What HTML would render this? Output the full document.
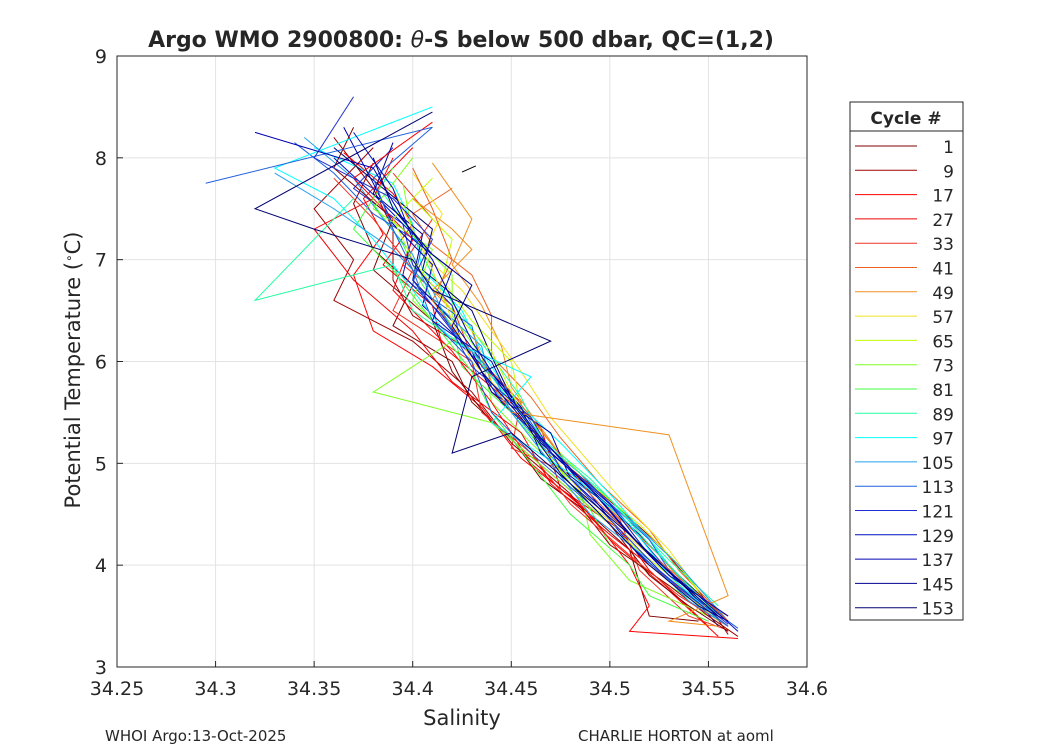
<!DOCTYPE html>
<html><head><meta charset="utf-8"><style>
body{margin:0;background:#fff;font-family:"Liberation Sans","DejaVu Sans",sans-serif}
svg text{font-family:"DejaVu Sans","Liberation Sans",sans-serif;fill:#262626}
</style></head><body>
<svg id="chart" width="1050" height="750" xmlns="http://www.w3.org/2000/svg">
<rect width="1050" height="750" fill="#fff"/>
<g id="grid"></g>
<g id="series"></g>
<rect x="117" y="56" width="690" height="611" fill="none" stroke="#262626" stroke-width="1"/>
<g id="ticks"></g>
<text x="461" y="47" text-anchor="middle" font-size="22" font-weight="bold">Argo WMO 2900800: <tspan font-style="italic" font-weight="normal">θ</tspan>-S below 500 dbar,  QC=(1,2)</text>
<text x="462" y="725" text-anchor="middle" font-size="21">Salinity</text>
<text transform="translate(80,370) rotate(-90)" text-anchor="middle" font-size="21">Potential Temperature (<tspan baseline-shift="super" font-size="12">∘</tspan>C)</text>
<text x="105" y="741" font-size="15">WHOI Argo:13-Oct-2025</text>
<text x="578" y="741" font-size="15">CHARLIE HORTON at aoml</text>
<g id="legend"></g>
</svg>
<script>
const xTicks=[34.25,34.3,34.35,34.4,34.45,34.5,34.55,34.6];
const yTicks=[3,4,5,6,7,8,9];
const cycles=["1","9","17","27","33","41","49","57","65","73","81","89","97","105","113","121","129","137","145","153"];
const colors=["#800000","#a00000","#ff0000","#f00000","#f03020","#f06020","#f09020","#f0e020","#c0ff00","#80ff20","#40ff40","#20ffa0","#00ffff","#20a0f0","#2060e0","#2030d0","#0010c0","#0000b0","#000090","#000070"];
const p1=[[34.37,8.3],[34.36,7.9],[34.39,7.4],[34.38,6.9],[34.41,6.4],[34.42,5.9],[34.44,5.4],[34.47,4.9],[34.50,4.4],[34.52,3.9],[34.54,3.6],[34.56,3.35]];
const p9=[[34.38,8.1],[34.35,7.5],[34.37,7.0],[34.36,6.6],[34.40,6.2],[34.43,5.7],[34.45,5.2],[34.48,4.7],[34.50,4.2],[34.53,3.8],[34.55,3.5],[34.565,3.3]];
const p17=[[34.41,8.35],[34.37,7.8],[34.40,7.2],[34.39,6.7],[34.42,6.1],[34.44,5.6],[34.46,5.0],[34.49,4.5],[34.51,4.0],[34.52,3.6],[34.51,3.35],[34.565,3.28]];
const p27=[[34.39,8.0],[34.38,7.6],[34.35,7.3],[34.37,6.8],[34.40,6.3],[34.42,5.8],[34.455,5.3],[34.47,4.8],[34.50,4.3],[34.53,3.85],[34.56,3.4]];
const p33=[[34.36,7.8],[34.38,7.4],[34.40,6.9],[34.39,6.5],[34.43,6.0],[34.435,5.5],[34.46,5.1],[34.48,4.6],[34.51,4.1],[34.535,3.7],[34.56,3.4]];
const p41=[[34.40,7.9],[34.41,7.5],[34.42,7.0],[34.41,6.6],[34.425,6.2],[34.45,5.7],[34.47,5.2],[34.49,4.7],[34.515,4.2],[34.54,3.8],[34.56,3.45]];
const p49=[[34.40,7.6],[34.42,7.3],[34.43,7.1],[34.41,6.7],[34.43,6.3],[34.44,5.8],[34.45,5.5],[34.53,5.28],[34.56,3.7],[34.53,3.45],[34.555,3.4]];
const p57=[[34.39,7.7],[34.40,7.3],[34.41,6.9],[34.42,6.4],[34.43,6.0],[34.45,5.6],[34.47,5.1],[34.49,4.6],[34.52,4.1],[34.54,3.7],[34.555,3.45]];
const p65=[[34.41,7.8],[34.39,7.4],[34.40,7.0],[34.42,6.5],[34.44,6.1],[34.45,5.7],[34.46,5.3],[34.48,4.8],[34.505,4.3],[34.53,3.9],[34.55,3.55]];
const p73=[[34.40,8.0],[34.38,7.5],[34.41,7.1],[34.40,6.6],[34.42,6.2],[34.38,5.7],[34.44,5.4],[34.47,4.9],[34.50,4.4],[34.52,4.0],[34.545,3.6]];
const p81=[[34.39,7.9],[34.37,7.3],[34.39,6.9],[34.41,6.4],[34.43,5.9],[34.44,5.5],[34.46,5.0],[34.48,4.5],[34.51,4.0],[34.52,3.7],[34.55,3.45]];
const p89=[[34.37,7.6],[34.32,6.6],[34.39,6.95],[34.40,6.5],[34.43,6.1],[34.45,5.6],[34.47,5.15],[34.50,4.65],[34.52,4.2],[34.54,3.8],[34.555,3.5]];
const p97=[[34.41,8.5],[34.33,7.9],[34.36,7.6],[34.38,7.2],[34.40,6.7],[34.42,6.2],[34.46,5.85],[34.44,5.4],[34.48,4.9],[34.51,4.4],[34.53,3.9],[34.55,3.55]];
const p105=[[34.33,7.85],[34.36,7.5],[34.39,7.1],[34.41,6.7],[34.42,6.3],[34.44,5.9],[34.45,5.5],[34.47,5.0],[34.49,4.5],[34.52,4.05],[34.54,3.65],[34.56,3.4]];
const p113=[[34.295,7.75],[34.41,8.3],[34.38,7.8],[34.39,7.3],[34.40,6.9],[34.41,6.4],[34.43,6.0],[34.44,5.5],[34.46,5.1],[34.49,4.6],[34.515,4.1],[34.54,3.7],[34.56,3.4]];
const p121=[[34.37,8.6],[34.35,8.0],[34.39,7.6],[34.41,7.2],[34.40,6.8],[34.42,6.3],[34.43,5.95],[34.46,5.45],[34.475,4.95],[34.50,4.45],[34.525,3.95],[34.55,3.55]];
const p129=[[34.37,8.25],[34.39,7.7],[34.40,7.2],[34.42,6.9],[34.41,6.4],[34.44,6.0],[34.45,5.6],[34.47,5.1],[34.50,4.6],[34.52,4.1],[34.545,3.7],[34.565,3.35]];
const p137=[[34.32,8.25],[34.38,7.9],[34.395,7.4],[34.41,7.0],[34.42,6.6],[34.43,6.2],[34.445,5.75],[34.465,5.25],[34.49,4.75],[34.51,4.3],[34.53,3.9],[34.56,3.5]];
const p145=[[34.38,8.0],[34.39,7.5],[34.41,7.05],[34.43,6.75],[34.42,6.35],[34.435,5.9],[34.455,5.45],[34.475,4.9],[34.50,4.4],[34.52,4.0],[34.545,3.6],[34.56,3.45]];
const p153=[[34.41,8.45],[34.32,7.5],[34.35,7.3],[34.40,7.0],[34.41,6.7],[34.47,6.2],[34.43,5.85],[34.42,5.1],[34.45,5.3],[34.48,4.8],[34.51,4.3],[34.535,3.85],[34.555,3.5]];
const q1=[[34.38,7.95],[34.37,7.55],[34.38,7.1],[34.40,6.75],[34.39,6.35],[34.42,6.0],[34.43,5.6],[34.45,5.25],[34.465,4.85],[34.49,4.5],[34.51,4.15],[34.52,3.5],[34.545,3.45]];
const q2=[[34.36,8.2],[34.38,7.7],[34.39,7.3],[34.39,6.8],[34.40,6.45],[34.43,6.1],[34.44,5.7],[34.46,5.35],[34.48,4.95],[34.505,4.55],[34.525,4.2],[34.545,3.75],[34.56,3.32]];
const q3=[[34.40,8.1],[34.375,7.6],[34.385,7.25],[34.37,6.85],[34.38,6.3],[34.41,5.95],[34.435,5.55],[34.455,5.05],[34.485,4.6],[34.50,4.25],[34.53,3.75],[34.555,3.3]];
const q4=[[34.365,8.05],[34.39,7.65],[34.40,7.35],[34.385,6.95],[34.41,6.55],[34.415,6.15],[34.44,5.75],[34.465,5.35],[34.475,4.75],[34.505,4.35],[34.52,3.95],[34.55,3.4]];
const q5=[[34.39,7.85],[34.41,7.4],[34.395,6.95],[34.42,6.55],[34.43,6.05],[34.455,5.6],[34.45,5.15],[34.485,4.85],[34.505,4.45],[34.515,3.95],[34.54,3.5],[34.56,3.36]];
const q6=[[34.42,7.7],[34.40,7.45],[34.41,7.15],[34.43,6.85],[34.44,6.45],[34.44,6.05],[34.46,5.65],[34.475,5.25],[34.495,4.8],[34.52,4.35],[34.535,3.95],[34.555,3.55]];
const q7=[[34.41,7.95],[34.43,7.4],[34.42,6.95],[34.435,6.55],[34.445,6.15],[34.45,5.75],[34.465,5.35],[34.48,4.95],[34.50,4.55],[34.525,4.1],[34.545,3.65],[34.56,3.5]];
const q8=[[34.40,7.85],[34.415,7.45],[34.405,7.05],[34.425,6.7],[34.44,6.3],[34.455,5.9],[34.47,5.45],[34.49,5.0],[34.51,4.55],[34.53,4.15],[34.545,3.75]];
const q9=[[34.40,7.6],[34.42,7.2],[34.415,6.8],[34.43,6.4],[34.45,6.0],[34.455,5.55],[34.47,5.2],[34.49,4.8],[34.515,4.4],[34.535,4.0],[34.55,3.6]];
const q10=[[34.395,7.75],[34.40,7.25],[34.42,6.85],[34.42,6.45],[34.435,6.05],[34.44,5.6],[34.46,5.2],[34.485,4.75],[34.49,4.3],[34.51,3.85],[34.55,3.5]];
const q11=[[34.38,7.55],[34.395,7.15],[34.405,6.75],[34.42,6.35],[34.425,5.95],[34.45,5.5],[34.47,5.05],[34.49,4.55],[34.50,4.2],[34.53,3.8],[34.55,3.55]];
const q12=[[34.385,7.65],[34.40,7.25],[34.41,6.85],[34.425,6.45],[34.44,6.05],[34.455,5.65],[34.465,5.25],[34.49,4.85],[34.51,4.45],[34.53,4.05],[34.555,3.6]];
const q13=[[34.35,8.1],[34.39,7.75],[34.40,7.35],[34.405,6.9],[34.425,6.5],[34.435,6.1],[34.45,5.65],[34.475,5.2],[34.50,4.7],[34.52,4.25],[34.53,4.0],[34.555,3.45]];
const q14=[[34.345,8.2],[34.37,7.8],[34.385,7.4],[34.40,7.05],[34.41,6.6],[34.435,6.15],[34.44,5.75],[34.46,5.3],[34.48,4.85],[34.51,4.45],[34.535,4.0],[34.56,3.45]];
const q15=[[34.34,8.15],[34.36,7.85],[34.38,7.45],[34.405,7.15],[34.40,6.75],[34.43,6.35],[34.435,5.95],[34.455,5.55],[34.47,5.1],[34.495,4.7],[34.52,4.25],[34.535,3.8],[34.565,3.38]];
const q16=[[34.39,8.1],[34.37,7.7],[34.395,7.35],[34.40,6.95],[34.42,6.55],[34.425,6.15],[34.45,5.7],[34.46,5.3],[34.485,4.9],[34.505,4.5],[34.525,4.05],[34.545,3.65],[34.56,3.42]];
const q17=[[34.36,8.0],[34.385,7.55],[34.40,7.25],[34.395,6.85],[34.415,6.45],[34.43,6.05],[34.445,5.6],[34.47,5.15],[34.49,4.7],[34.51,4.2],[34.53,3.85],[34.555,3.48]];
const q18=[[34.365,8.3],[34.38,7.75],[34.39,7.35],[34.41,6.95],[34.405,6.55],[34.43,6.1],[34.44,5.7],[34.47,5.3],[34.48,4.85],[34.505,4.4],[34.525,4.0],[34.55,3.52]];
const q19=[[34.39,8.15],[34.38,7.65],[34.405,7.25],[34.40,6.8],[34.42,6.4],[34.435,6.0],[34.455,5.55],[34.465,5.1],[34.495,4.65],[34.515,4.2],[34.54,3.75],[34.555,3.4]];
const q20=[[34.36,8.1],[34.385,7.7],[34.41,7.3],[34.405,6.9],[34.43,6.5],[34.44,6.05],[34.45,5.65],[34.465,5.2],[34.49,4.75],[34.515,4.3],[34.535,3.9],[34.56,3.45]];
const stray=[[34.425,7.86],[34.432,7.92]];
const profiles=[p1,p9,p17,p27,p33,p41,p49,p57,p65,p73,p81,p89,p97,p105,p113,p121,p129,p137,p145,p153];
const profiles2=[q1,q2,q3,q4,q5,q6,q7,q8,q9,q10,q11,q12,q13,q14,q15,q16,q17,q18,q19,q20];

const NS="http://www.w3.org/2000/svg";
const X0=117,X1=807,Y0=667,Y1=56;
function xs(s){return X0+(s-34.25)/(34.6-34.25)*(X1-X0);}
function ys(t){return Y0-(t-3)/(9-3)*(Y0-Y1);}
function mk(tag,attrs,parent){const e=document.createElementNS(NS,tag);for(const k in attrs)e.setAttribute(k,attrs[k]);parent.appendChild(e);return e;}
const grid=document.getElementById('grid'),ticks=document.getElementById('ticks'),series=document.getElementById('series'),legend=document.getElementById('legend');
xTicks.forEach(v=>{const x=xs(v);
 const g=mk('line',{x1:x,x2:x,y1:Y1,y2:Y0,stroke:'#e3e3e3'},grid);
 
 
 const t=mk('line',{x1:x,x2:x,y1:Y0,y2:Y0-6,stroke:'#262626'},ticks);
 
 
 const l=mk('text',{x:x,y:Y0+28,'text-anchor':'middle','font-size':'19'},ticks);l.textContent=String(v);
 
 
});
yTicks.forEach(v=>{const y=ys(v);
 const g=mk('line',{x1:X0,x2:X1,y1:y,y2:y,stroke:'#e3e3e3'},grid);
 
 
 const t=mk('line',{x1:X0,x2:X0+6,y1:y,y2:y,stroke:'#262626'},ticks);
 
 
 const l=mk('text',{x:X0-10,y:y+7,'text-anchor':'end','font-size':'19'},ticks);l.textContent=v;
 
 
});
function drawProfile(p,i){
 const pl=mk('polyline',{points:p.map(d=>xs(d[0])+','+ys(d[1])).join(' '),fill:'none',stroke:colors[i],'stroke-width':'1'},series);
 
 
}
profiles2.forEach((p,i)=>drawProfile(p,i));
profiles.forEach((p,i)=>drawProfile(p,i));
const st=mk('polyline',{points:stray.map(d=>xs(d[0])+','+ys(d[1])).join(' '),fill:'none',stroke:'#000','stroke-width':'1'},series);


const lb=mk('rect',{x:850,y:102,width:113,height:518,fill:'#fff',stroke:'#262626'},legend);


const lh=mk('text',{x:906,y:124,'text-anchor':'middle','font-size':'17','font-weight':'bold'},legend);lh.textContent='Cycle #';


const ld=mk('line',{x1:850,x2:963,y1:131,y2:131,stroke:'#262626'},legend);


cycles.forEach((c,i)=>{const y=146+i*24.3;
 const ln=mk('line',{x1:855,x2:917,y1:y,y2:y,stroke:colors[i]},legend);
 
 
 const tx=mk('text',{x:954,y:y+7,'text-anchor':'end','font-size':'17'},legend);tx.textContent=c;
 
 
});
</script>
</body></html>
